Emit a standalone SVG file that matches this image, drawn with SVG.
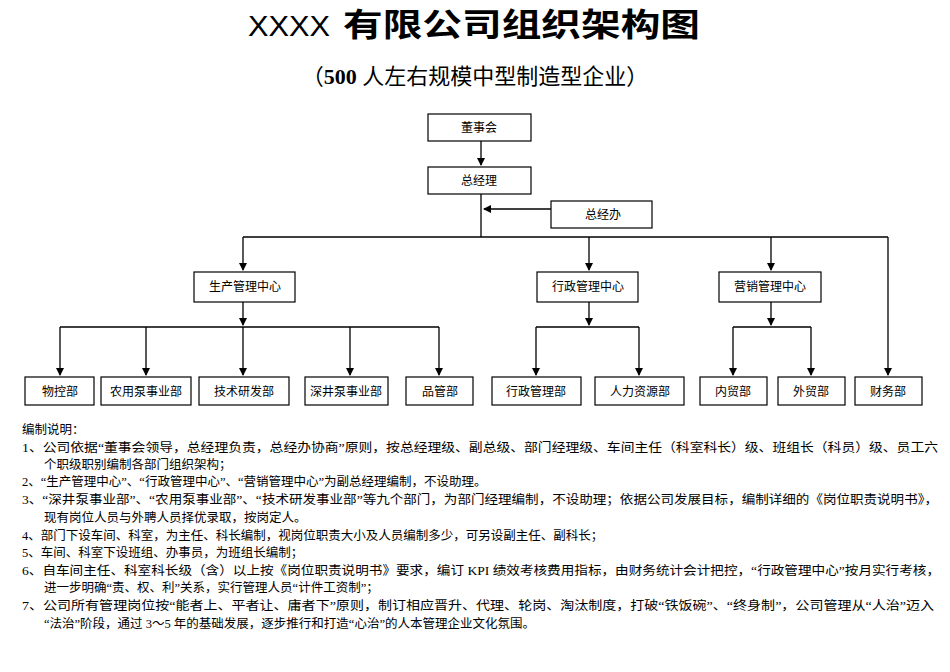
<svg xmlns="http://www.w3.org/2000/svg" width="950" height="672" viewBox="0 0 950 672">
<style>
.b{fill:#fff;stroke:#000;stroke-width:1.2}
.t{font-family:"Liberation Serif","Noto Sans CJK SC",serif;font-size:12px;text-anchor:middle}
.n{font-family:"Liberation Serif","Noto Sans CJK SC",serif;font-size:12.5px}
.c{fill:none;stroke:#000;stroke-width:1.3}
</style>
<defs><marker id="a" markerWidth="8" markerHeight="8" refX="7" refY="4" orient="auto" markerUnits="userSpaceOnUse"><path d="M0,0L8,4L0,8z"/></marker></defs>
<rect width="950" height="672" fill="#fff"/>
<text x="248" y="36" font-family="Liberation Sans,sans-serif" font-size="30" textLength="82" lengthAdjust="spacingAndGlyphs">XXXX</text>
<text x="343" y="36" font-family="Noto Sans CJK SC,sans-serif" font-size="32" font-weight="bold" textLength="357" lengthAdjust="spacingAndGlyphs">有限公司组织架构图</text>
<text x="475" y="84" font-family="Liberation Serif,Noto Sans CJK SC,serif" font-size="22" text-anchor="middle">（<tspan font-weight="bold">500</tspan> 人左右规模中型制造型企业）</text>
<g id="connectors" class="c">
<path d="M481,141V165" marker-end="url(#a)"/>
<path d="M481,194V237"/>
<path d="M551,209H484" marker-end="url(#a)"/>
<path d="M243,237H888"/>
<path d="M243,237V270" marker-end="url(#a)"/>
<path d="M589,237V270" marker-end="url(#a)"/>
<path d="M771,237V270" marker-end="url(#a)"/>
<path d="M888,237V375" marker-end="url(#a)"/>
<path d="M243,302V325" marker-end="url(#a)"/>
<path d="M589,302V325" marker-end="url(#a)"/>
<path d="M771,302V325" marker-end="url(#a)"/>
<path d="M60,327H439M536,327H639M733,327H811"/>
<path d="M60,327V375" marker-end="url(#a)"/>
<path d="M146,327V375" marker-end="url(#a)"/>
<path d="M243,327V375" marker-end="url(#a)"/>
<path d="M350,327V375" marker-end="url(#a)"/>
<path d="M439,327V375" marker-end="url(#a)"/>
<path d="M536,327V375" marker-end="url(#a)"/>
<path d="M639,327V375" marker-end="url(#a)"/>
<path d="M733,327V375" marker-end="url(#a)"/>
<path d="M811,327V375" marker-end="url(#a)"/>
</g>
<g id="n1"><rect class="b" x="428" y="114" width="103" height="27"/><text class="t" x="479" y="132">董事会</text></g>
<g id="n2"><rect class="b" x="428" y="167" width="103" height="27"/><text class="t" x="479" y="185">总经理</text></g>
<g id="n3"><rect class="b" x="551" y="201" width="101" height="27"/><text class="t" x="603" y="219">总经办</text></g>
<g id="n4"><rect class="b" x="194" y="272" width="101" height="30"/><text class="t" x="245" y="291">生产管理中心</text></g>
<g id="n5"><rect class="b" x="537" y="272" width="101" height="30" stroke-width="1.8"/><text class="t" x="588" y="291">行政管理中心</text></g>
<g id="n6"><rect class="b" x="719" y="272" width="102" height="30"/><text class="t" x="770" y="291">营销管理中心</text></g>
<g id="n7"><rect class="b" x="25" y="377" width="69" height="28"/><text class="t" x="60" y="396">物控部</text></g>
<g id="n8"><rect class="b" x="101" y="377" width="90" height="28"/><text class="t" x="146" y="396">农用泵事业部</text></g>
<g id="n9"><rect class="b" x="199" y="377" width="90" height="28"/><text class="t" x="244" y="396">技术研发部</text></g>
<g id="n10"><rect class="b" x="305" y="377" width="83" height="28"/><text class="t" x="346" y="396">深井泵事业部</text></g>
<g id="n11"><rect class="b" x="406" y="377" width="67" height="28"/><text class="t" x="440" y="396">品管部</text></g>
<g id="n12"><rect class="b" x="492" y="377" width="89" height="28"/><text class="t" x="536" y="396">行政管理部</text></g>
<g id="n13"><rect class="b" x="595" y="377" width="89" height="28"/><text class="t" x="640" y="396">人力资源部</text></g>
<g id="n14"><rect class="b" x="700" y="377" width="67" height="28"/><text class="t" x="733" y="396">内贸部</text></g>
<g id="n15"><rect class="b" x="778" y="377" width="67" height="28"/><text class="t" x="811" y="396">外贸部</text></g>
<g id="n16"><rect class="b" x="855" y="377" width="67" height="28"/><text class="t" x="888" y="396">财务部</text></g>
<g id="notes" class="n">
<text x="22" y="434">编制说明：</text>
<text x="22" y="452" textLength="916" lengthAdjust="spacingAndGlyphs">1、公司依据“董事会领导，总经理负责，总经办协商”原则，按总经理级、副总级、部门经理级、车间主任（科室科长）级、班组长（科员）级、员工六</text>
<text x="44" y="469">个职级职别编制各部门组织架构；</text>
<text x="22" y="486">2、“生产管理中心”、“行政管理中心”、“营销管理中心”为副总经理编制，不设助理。</text>
<text x="22" y="504" textLength="916" lengthAdjust="spacingAndGlyphs">3、“深井泵事业部”、“农用泵事业部”、“技术研发事业部”等九个部门，为部门经理编制，不设助理；依据公司发展目标，编制详细的《岗位职责说明书》，</text>
<text x="44" y="522">现有岗位人员与外聘人员择优录取，按岗定人。</text>
<text x="22" y="540">4、部门下设车间、科室，为主任、科长编制，视岗位职责大小及人员编制多少，可另设副主任、副科长；</text>
<text x="22" y="557">5、车间、科室下设班组、办事员，为班组长编制；</text>
<text x="22" y="575" textLength="918" lengthAdjust="spacingAndGlyphs">6、自车间主任、科室科长级（含）以上按《岗位职责说明书》要求，编订 KPI 绩效考核费用指标，由财务统计会计把控，“行政管理中心”按月实行考核，</text>
<text x="44" y="592">进一步明确“责、权、利”关系，实行管理人员“计件工资制”；</text>
<text x="22" y="610" textLength="912" lengthAdjust="spacingAndGlyphs">7、公司所有管理岗位按“能者上、平者让、庸者下”原则，制订相应晋升、代理、轮岗、淘汰制度，打破“铁饭碗”、“终身制”，公司管理从“人治”迈入</text>
<text x="44" y="628">“法治”阶段，通过 3～5 年的基础发展，逐步推行和打造“心治”的人本管理企业文化氛围。</text>
</g>
</svg>
